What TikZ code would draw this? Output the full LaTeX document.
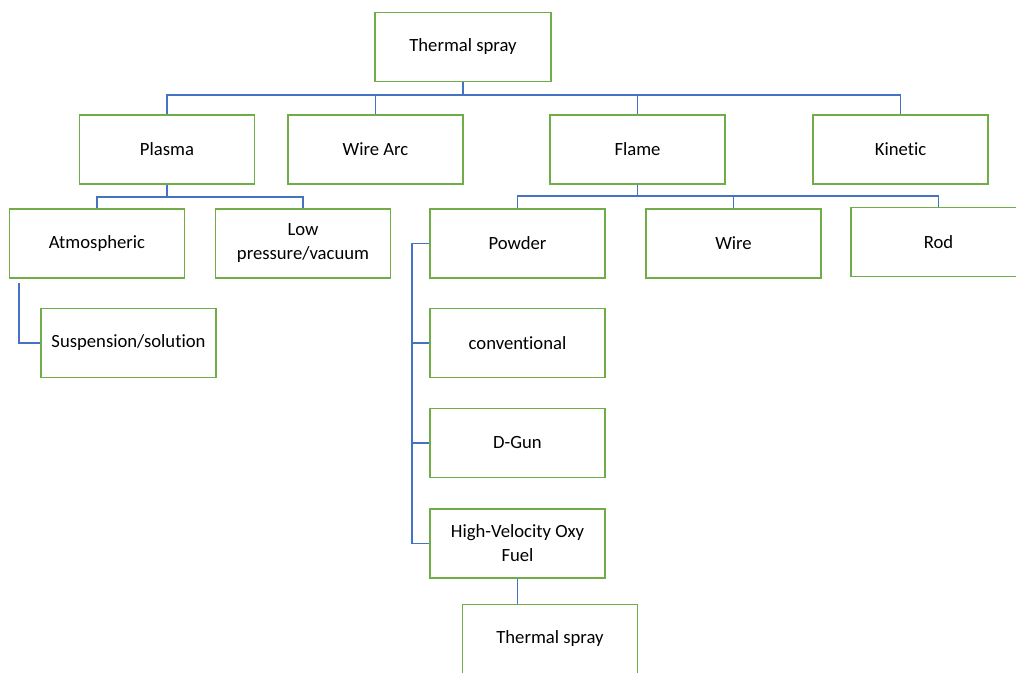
\documentclass[tikz,border=0pt]{standalone}
\usepackage{fontspec}
\setmainfont{Carlito}[Ligatures=NoCommon]
\usetikzlibrary{positioning}
\definecolor{SprayBoxGreen}{RGB}{112,173,71}
\definecolor{SprayLinkBlue}{RGB}{68,114,196}

\begin{document}
\begin{tikzpicture}[x=0.75pt,y=-0.75pt,
  box/.style={draw=SprayBoxGreen,line width=1.1pt,fill=white,minimum width=131.25pt,minimum height=51.75pt,inner sep=0pt,align=center,font=\fontsize{14}{18}\selectfont},
  link/.style={draw=SprayLinkBlue,line width=1.1pt}]
\useasboundingbox (0,0) rectangle (1016,672);
\clip (0,0) rectangle (1016,672);
% top levels
\node[box,minimum width=132pt] (root) at (463,47) {Thermal spray};
\node[box] (plasma) at (167,149.5) {Plasma};
\node[box] (wirearc) at (375.5,149.5) {Wire Arc};
\node[box] (flame) at (637.5,149.5) {Flame};
\node[box] (kinetic) at (900.5,149.5) {Kinetic};
% plasma branch
\node[box] (atmos) at (97,243.5) {Atmospheric};
\node[box] (lowpress) at (303,243.5) {Low\\pressure/vacuum};
\node[box] (susp) at (128.5,343) {Suspension/solution};
% flame branch
\node[box] (powder) at (517.5,243.5) {Powder};
\node[box] (wire) at (733.5,243.5) {Wire};
\node[box] (rod) at (938.5,242) {Rod};
\node[box] (conv) at (517.5,343) {conventional};
\node[box] (dgun) at (517.5,443) {D-Gun};
\node[box] (hvof) at (517.5,543.5) {High-Velocity Oxy\\Fuel};
\node[box] (spray2) at (550,639) {Thermal spray};

\coordinate (bus1) at (463,95);
\coordinate (bus2) at (167,197);
\coordinate (bus3) at (637.5,196);
\coordinate (spine) at (412,0);

\draw[link] (root.south) -- (bus1);
\draw[link] (plasma.north) |- (bus1) -| (kinetic.north);
\foreach \n in {wirearc,flame}
   \draw[link] (\n.north) -- (\n.north |- bus1);

\draw[link] (plasma.south) -- (bus2);
\draw[link] (atmos.north) |- (bus2) -| (lowpress.north);
\draw[link] ([xshift=7.5pt,yshift=-3pt]atmos.south west) |- (susp.west);

\draw[link] (flame.south) -- (bus3);
\draw[link] (powder.north) |- (bus3) -| (rod.north);
\draw[link] (wire.north) -- (wire.north |- bus3);
\draw[link] (powder.west) -- (powder.west -| spine) |- (hvof.west);
\foreach \n in {conv,dgun}
   \draw[link] (\n.west) -- (\n.west -| spine);
\draw[link] (hvof.south) -- (hvof.south |- spray2.north);
\end{tikzpicture}
\end{document}
